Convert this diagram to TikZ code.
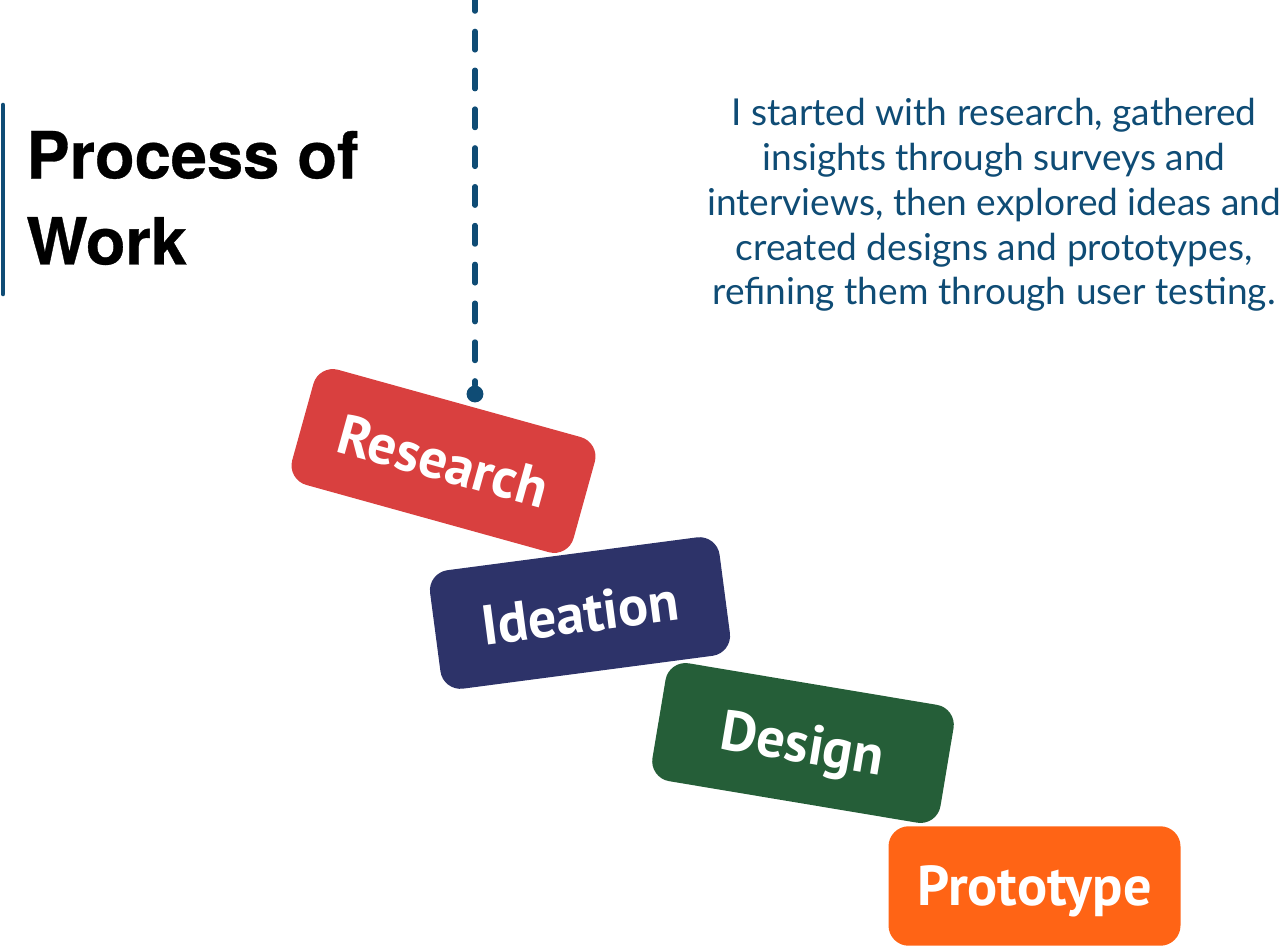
\documentclass[tikz,border=0pt]{standalone}
\usepackage{fontspec}
\setmainfont{PT Sans}
\newfontfamily\headfont[BoldFeatures={FakeBold=0.5}]{TeX Gyre Heros}
\newfontfamily\bodyfont{Lato}
\definecolor{linecol}{HTML}{0F4C75}
\definecolor{researchcol}{HTML}{D9403F}
\definecolor{ideationcol}{HTML}{2D3369}
\definecolor{designcol}{HTML}{255E38}
\definecolor{prototypecol}{HTML}{FF6415}
\tikzset{stage/.style={draw=none,rounded corners=11.5pt,minimum width=166.2pt,minimum height=68pt,inner sep=0pt,text=white,text height=22.4pt,text depth=0pt,font=\fontsize{32}{35}\selectfont\bfseries}}

\begin{document}
\begin{tikzpicture}[x=0.02cm,y=-0.02cm]
      \useasboundingbox (0,0) rectangle (1284,946);
      \node[stage,fill=researchcol,rotate=-15.5] (research) at (443.5,461) {Research};
      \node[stage,fill=ideationcol,rotate=7.5] (ideation) at (580,613) {Ideation};
      \node[stage,fill=designcol,rotate=-9.5] (design) at (803,743) {Design};
      \node[stage,fill=prototypecol] (prototype) at (1034.5,886) {Prototype};
      \node[circle,fill=linecol,minimum size=9.6pt,inner sep=0pt] (dot) at (475,394) {};
      \coordinate (top) at (475,-7.5);
      \node[anchor=west,inner sep=0pt,align=left,font=\headfont\fontsize{37}{49}\selectfont\bfseries] (title) at (26,198) {Process of\\Work};
      \node[inner sep=0pt,align=center,text=linecol,font=\bodyfont\fontsize{21.1}{25.5}\selectfont] (about) at (994,205) {I started with research, gathered\\insights through surveys and\\interviews, then explored ideas and\\created designs and prototypes,\\refining them through user testing.};
      \coordinate (bara) at (3,105);
      \coordinate (barb) at (3,294);

\draw[linecol,line width=3pt,line cap=round,dash pattern=on 10.6pt off 11.5pt] (top) -- (dot);
\draw[linecol,line width=2.6pt,line cap=round] (bara) -- (barb);
    \end{tikzpicture}
\end{document}
